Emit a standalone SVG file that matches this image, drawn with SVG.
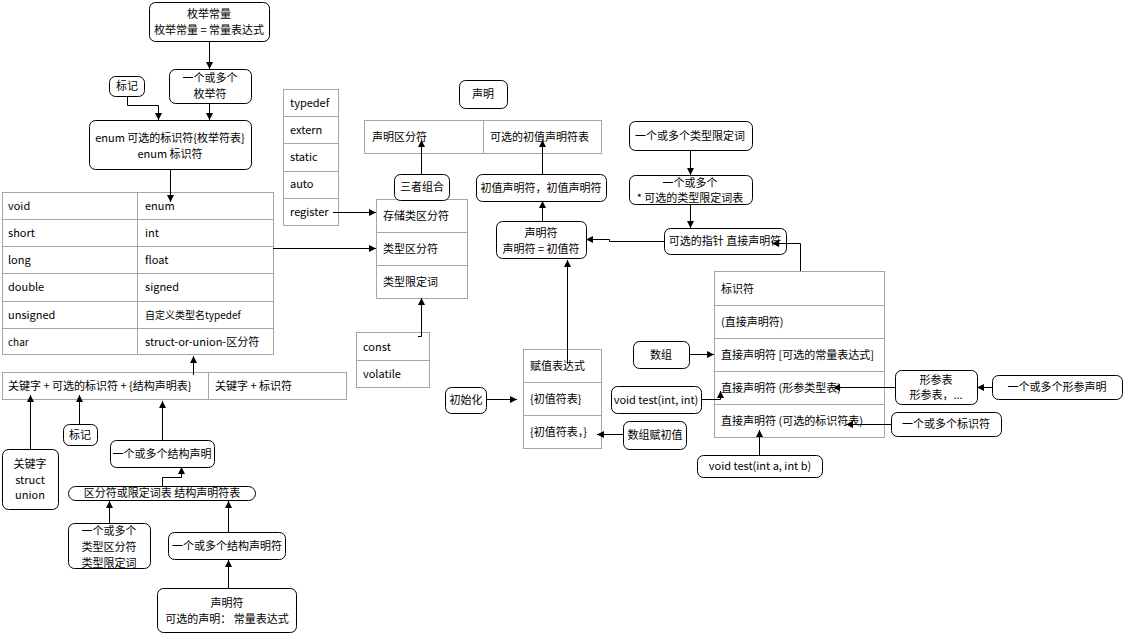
<svg xmlns="http://www.w3.org/2000/svg" width="1124" height="633" viewBox="0 0 1124 633">
<defs>
<marker id="ah" markerWidth="8" markerHeight="8" refX="7" refY="4" orient="auto" markerUnits="userSpaceOnUse"><path d="M0,0.5 L7,4 L0,7.5 Z" fill="#000"/></marker>
<style>
text{font-family:"Noto Sans CJK SC","Liberation Sans",sans-serif;font-size:11px;fill:#000}
.c{text-anchor:middle}
.box{fill:#fff;stroke:#000;stroke-width:1}
.tbl{fill:#fff;stroke:#a6a6a6;stroke-width:1}
.ln{stroke:#a6a6a6;stroke-width:1}
.con{fill:none;stroke:#000;stroke-width:1;marker-end:url(#ah)}
</style>
</defs>
<rect width="1124" height="633" fill="#fff"/>

<g id="n-enumconst"><rect class="box" x="149.5" y="2.5" width="120" height="39" rx="6"/><text class="c" x="209" y="18">枚举常量</text><text class="c" x="209" y="34">枚举常量 = 常量表达式</text></g>
<g id="n-enumerators"><rect class="box" x="169.5" y="69.5" width="82" height="34" rx="6"/><text class="c" x="210" y="82">一个或多个</text><text class="c" x="210" y="98">枚举符</text></g>
<g id="n-tag1"><rect class="box" x="109.5" y="76.5" width="35" height="20" rx="6"/><text class="c" x="127" y="90">标记</text></g>
<g id="n-enum"><rect class="box" x="89.5" y="120.5" width="162" height="49" rx="6"/><text class="c" x="170" y="142">enum 可选的标识符{枚举符表}</text><text class="c" x="170" y="158">enum 标识符</text></g>

<g id="n-types">
<rect class="tbl" x="2.5" y="192.5" width="271" height="162"/>
<line class="ln" x1="137.5" y1="192.5" x2="137.5" y2="354.5"/>
<line class="ln" x1="2.5" y1="219.5" x2="273.5" y2="219.5"/>
<line class="ln" x1="2.5" y1="246.5" x2="273.5" y2="246.5"/>
<line class="ln" x1="2.5" y1="273.5" x2="273.5" y2="273.5"/>
<line class="ln" x1="2.5" y1="301.5" x2="273.5" y2="301.5"/>
<line class="ln" x1="2.5" y1="328.5" x2="273.5" y2="328.5"/>
<text x="8" y="210">void</text><text x="145" y="210">enum</text>
<text x="8" y="237">short</text><text x="145" y="237">int</text>
<text x="8" y="264">long</text><text x="145" y="264">float</text>
<text x="8" y="291">double</text><text x="145" y="291">signed</text>
<text x="8" y="319">unsigned</text><text x="145" y="319" style="font-size:10px">自定义类型名typedef</text>
<text x="8" y="346" style="font-size:10px">char</text><text x="145" y="346">struct-or-union-区分符</text>
</g>

<g id="n-storage-list">
<rect class="tbl" x="283.5" y="89.5" width="55" height="136"/>
<line class="ln" x1="283.5" y1="116.5" x2="338.5" y2="116.5"/>
<line class="ln" x1="283.5" y1="143.5" x2="338.5" y2="143.5"/>
<line class="ln" x1="283.5" y1="171.5" x2="338.5" y2="171.5"/>
<line class="ln" x1="283.5" y1="198.5" x2="338.5" y2="198.5"/>
<text x="290" y="107">typedef</text><text x="290" y="134">extern</text><text x="290" y="161">static</text><text x="290" y="188">auto</text><text x="290" y="216">register</text>
</g>

<g id="n-spec">
<rect class="tbl" x="376.5" y="199.5" width="91" height="99"/>
<line class="ln" x1="376.5" y1="232.5" x2="467.5" y2="232.5"/>
<line class="ln" x1="376.5" y1="265.5" x2="467.5" y2="265.5"/>
<text x="383" y="220">存储类区分符</text><text x="383" y="253">类型区分符</text><text x="383" y="286">类型限定词</text>
</g>
<g id="n-combo"><rect class="box" x="394.5" y="174.5" width="55" height="26" rx="6"/><text class="c" x="422" y="191">三者组合</text></g>
<g id="n-decl"><rect class="box" x="459.5" y="80.5" width="48" height="28" rx="6"/><text class="c" x="483" y="98">声明</text></g>
<g id="n-decl-table">
<rect class="tbl" x="364.5" y="120.5" width="237" height="33"/>
<line class="ln" x1="483.5" y1="120.5" x2="483.5" y2="153.5"/>
<text x="372" y="141">声明区分符</text><text x="490" y="141">可选的初值声明符表</text>
</g>
<g id="n-qual">
<rect class="tbl" x="356.5" y="332.5" width="73" height="55"/>
<line class="ln" x1="356.5" y1="360.5" x2="429.5" y2="360.5"/>
<text x="363" y="351">const</text><text x="363" y="378">volatile</text>
</g>
<g id="n-initdecls"><rect class="box" x="476.5" y="174.5" width="130" height="27" rx="6"/><text class="c" x="541" y="192">初值声明符，初值声明符</text></g>
<g id="n-declarator"><rect class="box" x="496.5" y="221.5" width="90" height="37" rx="6"/><text class="c" x="541" y="237">声明符</text><text class="c" x="541" y="253">声明符 = 初值符</text></g>
<g id="n-tq"><rect class="box" x="629.5" y="121.5" width="123" height="29" rx="6"/><text class="c" x="690" y="140">一个或多个类型限定词</text></g>
<g id="n-tqlist"><rect class="box" x="629.5" y="175.5" width="123" height="29" rx="6"/><text class="c" x="690" y="187">一个或多个</text><text class="c" x="690" y="202">* 可选的类型限定词表</text></g>
<g id="n-ptr"><rect class="box" x="664.5" y="228.5" width="122" height="26" rx="6"/><text class="c" x="725" y="245">可选的指针 直接声明符</text></g>
<g id="n-direct">
<rect class="tbl" x="714.5" y="271.5" width="170" height="166"/>
<line class="ln" x1="714.5" y1="305.5" x2="884.5" y2="305.5"/>
<line class="ln" x1="714.5" y1="338.5" x2="884.5" y2="338.5"/>
<line class="ln" x1="714.5" y1="371.5" x2="884.5" y2="371.5"/>
<line class="ln" x1="714.5" y1="404.5" x2="884.5" y2="404.5"/>
<text x="721" y="293">标识符</text><text x="721" y="326">(直接声明符)</text><text x="721" y="359">直接声明符 [可选的常量表达式]</text><text x="721" y="392">直接声明符 (形参类型表)</text><text x="721" y="425">直接声明符 (可选的标识符表)</text>
</g>
<g id="n-array"><rect class="box" x="633.5" y="341.5" width="56" height="27" rx="6"/><text class="c" x="661" y="359">数组</text></g>
<g id="n-vt1"><rect class="box" x="611.5" y="386.5" width="90" height="27" rx="6"/><text class="c" x="656" y="404">void test(int, int)</text></g>
<g id="n-arrinit"><rect class="box" x="623.5" y="421.5" width="63" height="28" rx="6"/><text class="c" x="655" y="439">数组赋初值</text></g>
<g id="n-vt2"><rect class="box" x="697.5" y="455.5" width="125" height="22" rx="6"/><text class="c" x="760" y="470">void test(int a, int b)</text></g>
<g id="n-params"><rect class="box" x="895.5" y="370.5" width="82" height="34" rx="6"/><text class="c" x="936" y="384">形参表</text><text class="c" x="936" y="399">形参表，...</text></g>
<g id="n-paramdecl"><rect class="box" x="992.5" y="375.5" width="130" height="24" rx="6"/><text class="c" x="1057" y="391">一个或多个形参声明</text></g>
<g id="n-ids"><rect class="box" x="891.5" y="412.5" width="110" height="24" rx="6"/><text class="c" x="946" y="428">一个或多个标识符</text></g>
<g id="n-init">
<rect class="tbl" x="523.5" y="349.5" width="78" height="99"/>
<line class="ln" x1="523.5" y1="382.5" x2="601.5" y2="382.5"/>
<line class="ln" x1="523.5" y1="415.5" x2="601.5" y2="415.5"/>
<text x="530" y="370">赋值表达式</text><text x="530" y="403">{初值符表}</text><text x="530" y="436">{初值符表，}</text>
</g>
<g id="n-initialize"><rect class="box" x="445.5" y="387.5" width="41" height="26" rx="6"/><text class="c" x="466" y="404">初始化</text></g>

<g id="n-struct">
<rect class="tbl" x="2.5" y="372.5" width="344" height="27"/>
<line class="ln" x1="208.5" y1="372.5" x2="208.5" y2="399.5"/>
<text x="8" y="390">关键字 + 可选的标识符 + {结构声明表}</text><text x="215" y="390">关键字 + 标识符</text>
</g>
<g id="n-kw"><rect class="box" x="2.5" y="449.5" width="56" height="60" rx="6"/><text class="c" x="30" y="468">关键字</text><text class="c" x="30" y="484">struct</text><text class="c" x="30" y="499">union</text></g>
<g id="n-tag2"><rect class="box" x="63.5" y="424.5" width="34" height="21" rx="6"/><text class="c" x="80" y="439">标记</text></g>
<g id="n-sdecls"><rect class="box" x="110.5" y="440.5" width="104" height="27" rx="6"/><text class="c" x="162" y="458">一个或多个结构声明</text></g>
<g id="n-sdecl"><rect class="box" x="68.5" y="486.5" width="187" height="14" rx="7"/><text class="c" x="162" y="497">区分符或限定词表 结构声明符表</text></g>
<g id="n-specq"><rect class="box" x="68.5" y="523.5" width="82" height="45" rx="6"/><text class="c" x="109" y="535">一个或多个</text><text class="c" x="109" y="551">类型区分符</text><text class="c" x="109" y="567">类型限定词</text></g>
<g id="n-sdeclrs"><rect class="box" x="168.5" y="532.5" width="117" height="27" rx="6"/><text class="c" x="227" y="550">一个或多个结构声明符</text></g>
<g id="n-sdeclr"><rect class="box" x="157.5" y="588.5" width="139" height="44" rx="6"/><text class="c" x="227" y="607">声明符</text><text class="c" x="227" y="623">可选的声明： 常量表达式</text></g>

<g id="connectors">
<path class="con" d="M209.5,41 V69"/>
<path class="con" d="M127.5,96 V105.5 H158.5 V120"/>
<path class="con" d="M209.5,103 V120"/>
<path class="con" d="M170.5,169 V202"/>
<path class="con" d="M273,248.5 H376"/>
<path class="con" d="M333,212.5 H376"/>
<path class="con" d="M421.5,174 V140"/>
<path class="con" d="M418,336.5 H421.5 V298"/>
<path class="con" d="M542.5,174 V140"/>
<path class="con" d="M542.5,221 V201"/>
<path class="con" d="M664,241.5 H609.5 V239.5 H586"/>
<path class="con" d="M690.5,150 V175"/>
<path class="con" d="M690.5,204 V228"/>
<path class="con" d="M800.5,271 V243.5 H772"/>
<path class="con" d="M689,354.5 H714"/>
<path class="con" d="M701,399.5 H720.5 V391"/>
<path class="con" d="M623,434.5 H597"/>
<path class="con" d="M759.5,455 V430"/>
<path class="con" d="M895,387.5 H833"/>
<path class="con" d="M992,387.5 H977"/>
<path class="con" d="M891,424.5 H846"/>
<path class="con" d="M567.5,364 V260"/>
<path class="con" d="M486,399.5 H517"/>
<path class="con" d="M193.5,375 V356"/>
<path class="con" d="M30.5,449 V395"/>
<path class="con" d="M79.5,424 V395"/>
<path class="con" d="M162.5,440 V401"/>
<path class="con" d="M162.5,486 V477.5 H181.5 V467"/>
<path class="con" d="M109.5,523 V501"/>
<path class="con" d="M228.5,532 V501"/>
<path class="con" d="M228.5,588 V560"/>
</g>
</svg>
